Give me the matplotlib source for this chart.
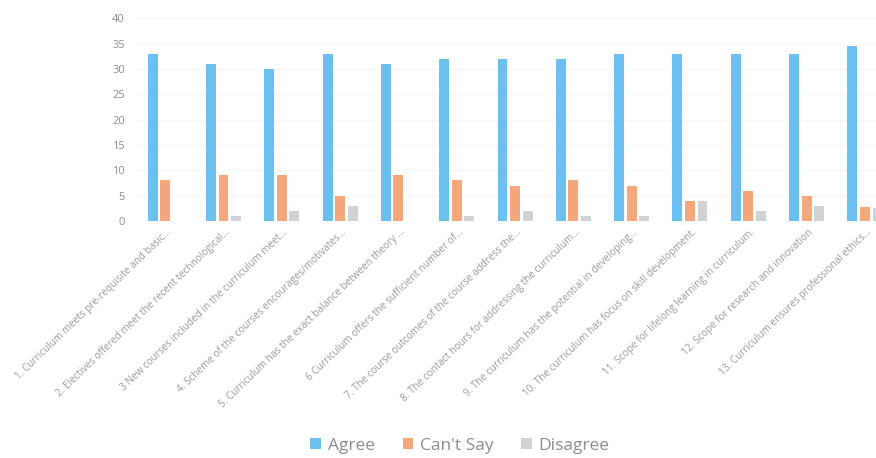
import matplotlib.pyplot as plt
import numpy as np

plt.rcParams['font.family'] = ['Open Sans', 'DejaVu Sans']

labels = [
    "1. Curriculum meets pre-requisite and basic…",
    "2. Electives offered meet the recent technological…",
    "3 New courses included in the curriculum meet…",
    "4. Scheme of the courses encourages/motivates…",
    "5. Curriculum has the exact balance between theory …",
    "6 Curriculum offers the sufficient number of…",
    "7. The course outcomes of the course address the…",
    "8. The contact hours for addressing the curriculum…",
    "9. The curriculum has the potential in developing…",
    "10. The curriculum has focus on skill development.",
    "11. Scope for lifelong learning in curriculum.",
    "12. Scope for research and innovation",
    "13. Curriculum ensures professional ethics…",
]
agree = [33, 31, 30, 33, 31, 32, 32, 32, 33, 33, 33, 33, 34.5]
cant_say = [8, 9, 9, 5, 9, 8, 7, 8, 7, 4, 6, 5, 2.7]
disagree = [0, 1, 2, 3, 0, 1, 2, 1, 1, 4, 2, 3, 2.5]

c_agree = '#6cc0f0'
c_cant = '#f5a77c'
c_dis = '#cfd3d6'
txt = '#8c8c8c'

fig = plt.figure(figsize=(8.76, 4.58), dpi=100)
ax = fig.add_axes([136 / 876, (458 - 221) / 458, 1 - 136 / 876, (221 - 18.3) / 458])

x = np.arange(len(labels))
w = 0.17
step = 0.215
ax.bar(x - step, agree, w, color=c_agree, label='Agree')
ax.bar(x, cant_say, w, color=c_cant, label="Can't Say")
ax.bar(x + step, disagree, w, color=c_dis, label='Disagree')

ax.set_xlim(-0.5, 12.19)
ax.set_ylim(0, 40)
ax.set_yticks(np.arange(0, 41, 5))
ax.yaxis.grid(True, color='#f6f6f6', linewidth=0.8)
ax.set_axisbelow(True)
for s in ax.spines.values():
    s.set_visible(False)
ax.tick_params(axis='both', length=0, colors=txt, labelsize=8)
ax.tick_params(axis='y', pad=8)

ax.set_xticks(x + 0.02)
ax.set_xticklabels(labels, rotation=44, ha='right', rotation_mode='anchor',
                   fontsize=7.2, color='#9a9a9a')
ax.tick_params(axis='x', pad=4)

fig.legend(loc='center', bbox_to_anchor=(460 / 876, 1 - 446 / 458), ncol=3,
           frameon=False, fontsize=12.5, handlelength=0.6, handleheight=0.6,
           handletextpad=0.4, columnspacing=1.6, labelcolor='#8c8c8c')

fig.savefig('out.png', dpi=100)
